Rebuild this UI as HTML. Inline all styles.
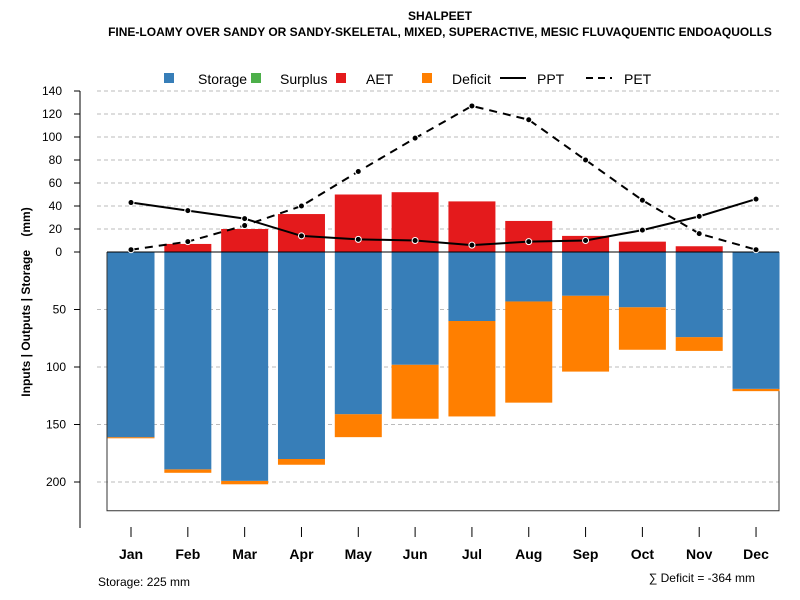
<!DOCTYPE html>
<html><head><meta charset="utf-8"><style>
html,body{margin:0;padding:0;background:#fff;}
svg{display:block;font-family:"Liberation Sans",sans-serif;}
</style></head><body>
<svg id="chart" width="800" height="600" xmlns="http://www.w3.org/2000/svg">
<text x="440" y="20" text-anchor="middle" font-size="12" font-weight="bold">SHALPEET</text>
<text x="440" y="36" text-anchor="middle" font-size="12" font-weight="bold">FINE-LOAMY OVER SANDY OR SANDY-SKELETAL, MIXED, SUPERACTIVE, MESIC FLUVAQUENTIC ENDOAQUOLLS</text>
<g id="grid"></g>
<g id="bars"></g>
<g id="lines"></g>
<g id="axes"></g>
<g font-size="14">
<rect x="164" y="73" width="10" height="10" fill="#377eb8"/>
<text x="198" y="84">Storage</text>
<rect x="251" y="73" width="10" height="10" fill="#4daf4a"/>
<text x="280" y="84">Surplus</text>
<rect x="336" y="73" width="10" height="10" fill="#e41a1c"/>
<text x="366" y="84">AET</text>
<rect x="422" y="73" width="10" height="10" fill="#ff7f00"/>
<text x="452" y="84">Deficit</text>
<line x1="500" y1="78" x2="526" y2="78" stroke="#000" stroke-width="2"/>
<text x="537" y="84">PPT</text>
<line x1="586" y1="78" x2="612" y2="78" stroke="#000" stroke-width="2" stroke-dasharray="7,5"/>
<text x="624" y="84">PET</text>
</g>
<text x="30" y="302" transform="rotate(-90 30 302)" text-anchor="middle" font-size="12" font-weight="bold" style="white-space:pre" xml:space="preserve">Inputs | Outputs | Storage    (mm)</text>
<text x="98" y="586" font-size="12">Storage: 225 mm</text>
<text x="755" y="582" text-anchor="end" font-size="12">∑ Deficit = -364 mm</text>
</svg>
<script>
const months=["Jan","Feb","Mar","Apr","May","Jun","Jul","Aug","Sep","Oct","Nov","Dec"];
const storage=[161,189,199,180,141,98,60,43,38,48,74,119];
const deficit=[1,3,3,5,20,47,83,88,66,37,12,2];
const surplus=[0,0,0,0,0,0,0,0,0,0,0,0];
const aet=[0,7,20,33,50,52,44,27,14,9,5,0];
const ppt=[43,36,29,14,11,10,6,9,10,19,31,46];
const pet=[2,9,23,40,70,99,127,115,80,45,16,2];
const posTicks=[0,20,40,60,80,100,120,140];
const negTicks=[50,100,150,200];
const maxStorage=225;
const NS="http://www.w3.org/2000/svg";
const y0=252, k=1.15, xL=107, xR=779;
const mx0=102.6, step=56.82;
const xs=i=>mx0+step*(i+0.5);
const yUp=v=>y0-v*k;
const yDn=v=>y0+v*k;
const bw=47;
function mk(tag,attrs,parent){const e=document.createElementNS(NS,tag);for(const a in attrs)e.setAttribute(a,attrs[a]);document.getElementById(parent).appendChild(e);return e;}
posTicks.concat(negTicks.map(v=>-v)).forEach(v=>{if(v===0)return;const y=v>0?yUp(v):yDn(-v);
 const g=mk('line',{x1:97,x2:xR,y1:y,y2:y,stroke:'#bbb','stroke-dasharray':'4,3'},'grid');
 
 });
const box=mk('path',{d:`M${xL},${y0}V${yDn(maxStorage)}H${xR}V${y0}`,fill:'none',stroke:'#333'},'grid');


months.forEach((m,i)=>{
 const x=xs(i)-bw/2;
 const d=mk('rect',{x:x,y:yDn(storage[i]),width:bw,height:deficit[i]*k,fill:'#ff7f00'},'bars');
 
 
 const s=mk('rect',{x:x,y:y0,width:bw,height:storage[i]*k,fill:'#377eb8'},'bars');
 
 
 const a=mk('rect',{x:x,y:yUp(aet[i]+surplus[i]),width:bw,height:aet[i]*k,fill:'#e41a1c'},'bars');
 
 
});
const zl=mk('line',{x1:xL,x2:xR,y1:y0,y2:y0,stroke:'#000'},'bars');


function series(arr,name,dash){
 const p=mk('polyline',{points:arr.map((v,i)=>xs(i)+','+yUp(v)).join(' '),fill:'none',stroke:'#000','stroke-width':2,'stroke-dasharray':dash},'lines');
 
 
 arr.forEach((v,i)=>{const c=mk('circle',{cx:xs(i),cy:yUp(v),r:3,fill:'#000',stroke:'#fff','stroke-width':1},'lines');
  
  });
}
series(pet,'pet','8,6');
series(ppt,'ppt','none');
const ya=mk('line',{x1:80,x2:80,y1:yUp(140),y2:528,stroke:'#000'},'axes');


posTicks.forEach(v=>{const y=yUp(v);
 const t=mk('line',{x1:74,x2:80,y1:y,y2:y,stroke:'#000'},'axes');
 
 
 const l=mk('text',{x:62,y:y+4,'text-anchor':'end','font-size':12},'axes');l.textContent=v;
 
 });
negTicks.forEach(v=>{const y=yDn(v);
 const t=mk('line',{x1:74,x2:80,y1:y,y2:y,stroke:'#000'},'axes');
 
 
 const l=mk('text',{x:66,y:y+4,'text-anchor':'end','font-size':12},'axes');l.textContent=v;
 
 });
months.forEach((m,i)=>{
 const t=mk('line',{x1:xs(i),x2:xs(i),y1:527,y2:537,stroke:'#000'},'axes');
 
 
 const l=mk('text',{x:xs(i),y:559,'text-anchor':'middle','font-size':14,'font-weight':'bold'},'axes');l.textContent=m;
 
 });
</script>
</body></html>
